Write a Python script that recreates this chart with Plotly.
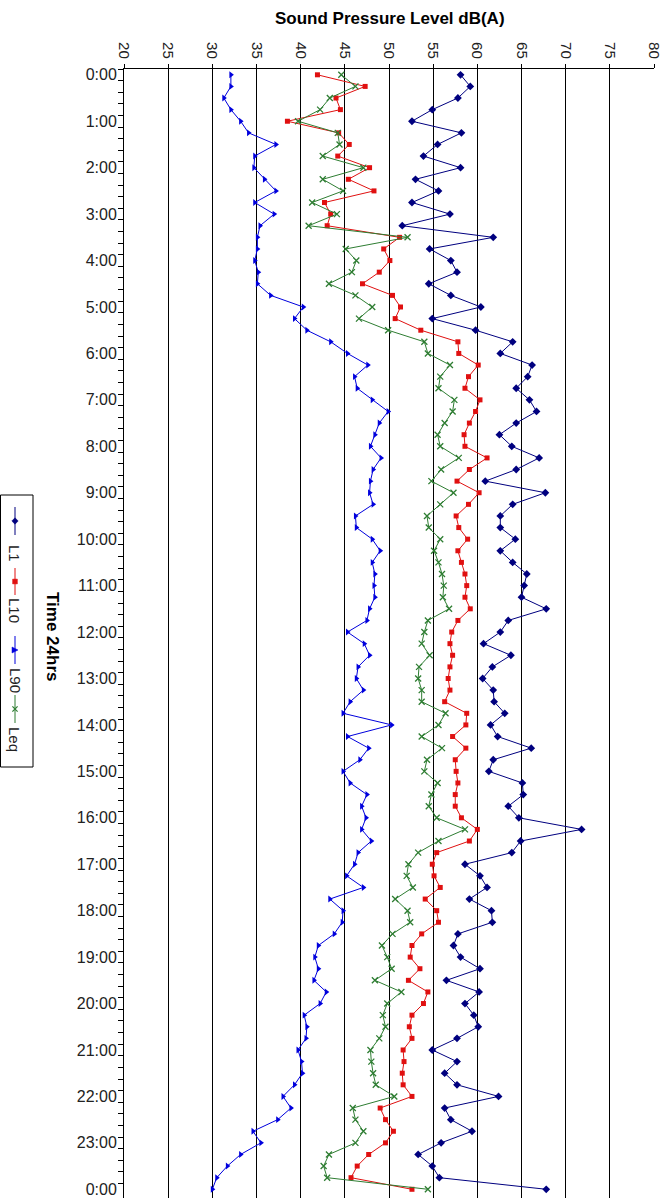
import plotly.graph_objects as go

# ---------------- data (15-minute intervals, 0:00 .. 24:00) ----------------
hour_labels = [f"{h % 24}:00" for h in range(25)]

l1 = [58.1, 59.2, 57.8, 54.9, 52.6, 58.2, 55.5, 53.9, 58.1, 53.0, 55.6, 52.6,
      56.9, 51.5, 61.8, 54.6, 57.0, 57.7, 54.5, 57.0, 60.4, 54.9, 59.8, 64.0,
      62.6, 66.2, 65.7, 64.4, 65.9, 66.7, 64.4, 62.5, 63.9, 67.0, 64.4, 60.9,
      67.7, 64.0, 62.6, 62.6, 64.3, 62.6, 64.0, 65.6, 65.3, 65.0, 67.8, 63.5,
      62.6, 60.7, 63.8, 61.7, 60.6, 61.8, 61.9, 63.1, 61.5, 62.3, 66.1, 61.8,
      61.3, 65.1, 65.2, 63.5, 64.7, 71.8, 64.9, 63.9, 58.6, 60.3, 61.1, 59.1,
      61.6, 61.7, 57.8, 57.3, 58.1, 60.3, 56.5, 60.2, 58.6, 59.6, 60.1, 57.7,
      54.9, 57.7, 56.3, 57.7, 62.4, 56.3, 57.0, 59.4, 55.9, 53.3, 54.9, 55.7,
      67.8]

l10 = [41.9, 47.3, 44.0, 44.5, 38.5, 44.3, 45.5, 44.2, 47.8, 45.4, 48.3, 42.7,
       43.4, 43.0, 51.2, 49.4, 50.1, 48.9, 47.0, 50.4, 51.3, 50.7, 53.6, 57.8,
       57.9, 60.1, 59.0, 58.6, 60.3, 59.8, 59.1, 58.5, 58.6, 61.1, 59.1, 57.7,
       60.2, 59.0, 57.6, 57.9, 58.9, 57.8, 58.2, 58.6, 58.8, 58.6, 59.2, 57.8,
       57.1, 56.9, 57.2, 56.9, 56.7, 56.9, 56.3, 58.8, 58.7, 57.2, 58.7, 57.5,
       57.6, 57.8, 57.5, 57.5, 58.2, 60.0, 59.1, 55.4, 54.9, 55.1, 55.8, 54.1,
       55.4, 55.6, 53.7, 52.6, 52.4, 53.5, 52.2, 54.4, 53.9, 52.6, 52.3, 52.6,
       51.6, 51.7, 51.5, 51.6, 52.6, 49.0, 49.6, 50.5, 49.6, 47.7, 46.4, 45.7,
       52.6]

l90 = [32.1, 32.1, 31.3, 32.1, 33.2, 34.1, 37.2, 34.8, 34.7, 35.9, 37.2, 34.8,
       37.0, 35.4, 35.1, 35.1, 34.8, 35.2, 35.1, 36.6, 40.3, 39.3, 40.7, 43.4,
       45.3, 47.6, 46.1, 46.4, 48.1, 49.9, 48.9, 48.4, 47.9, 49.1, 48.2, 47.9,
       47.8, 48.2, 46.2, 46.3, 48.1, 49.0, 48.1, 48.4, 48.3, 48.4, 47.8, 47.5,
       45.3, 47.2, 47.8, 46.5, 46.3, 47.1, 45.6, 44.8, 50.3, 45.3, 47.7, 46.7,
       44.8, 45.6, 47.5, 46.9, 47.4, 46.9, 48.0, 46.5, 46.1, 45.2, 47.1, 43.3,
       44.8, 44.7, 43.8, 42.0, 41.6, 42.0, 41.5, 42.9, 42.2, 40.4, 40.7, 40.6,
       39.7, 40.1, 40.2, 39.3, 38.0, 38.9, 37.4, 34.6, 35.5, 33.2, 31.7, 30.5,
       30.0]

leq = [44.6, 46.2, 43.3, 42.2, 39.7, 44.2, 44.4, 42.5, 47.1, 42.5, 44.8, 41.3,
       44.1, 40.9, 52.1, 45.1, 46.3, 45.8, 43.2, 46.2, 48.1, 46.6, 49.9, 54.0,
       54.4, 56.9, 55.8, 55.6, 57.4, 57.2, 56.3, 55.5, 55.8, 57.9, 55.9, 54.8,
       57.3, 55.8, 54.3, 54.5, 55.8, 55.1, 55.6, 56.0, 56.2, 56.1, 56.8, 54.4,
       54.0, 53.7, 54.6, 53.4, 53.3, 53.7, 53.7, 56.4, 55.6, 53.7, 56.0, 54.3,
       54.0, 55.5, 54.8, 54.5, 55.4, 58.6, 55.6, 53.3, 52.2, 52.0, 52.7, 50.7,
       52.1, 52.4, 50.4, 49.2, 49.8, 50.3, 48.4, 51.4, 49.8, 49.3, 49.6, 48.9,
       47.9, 48.0, 48.2, 48.5, 50.6, 45.9, 46.2, 47.1, 46.2, 43.2, 42.6, 43.0,
       54.4]

spl_ticks = list(range(20, 85, 5))
series_names = ["L1", "L10", "L90", "Leq"]
series_colors = ["#00007f", "#e01010", "#0000dd", "#2e7d32"]

# ---------------- layout geometry ----------------
W, H = 670, 1198
ML, MR, MT, MB = 124, 16, 69, 0
PW, PH = W - ML - MR, H - MT - MB


def px(x):
    return (x - ML) / PW


def py(y):
    return (H - MB - y) / PH


FONT = "Liberation Sans, Arial, sans-serif"
idx = list(range(len(l1)))

fig = go.Figure()
specs = [
    (l1, dict(symbol="diamond", size=6)),
    (l10, dict(symbol="square", size=5)),
    (l90, dict(symbol="triangle-right", size=6)),
    (leq, dict(symbol="x-thin", size=6, line=dict(width=1.3))),
]
for (vals, mk), name, col in zip(specs, series_names, series_colors):
    m = dict(mk)
    m["color"] = col
    if "line" in m:
        m["line"] = dict(m["line"], color=col)
    fig.add_trace(go.Scatter(x=vals, y=idx, mode="lines+markers", name=name,
                             line=dict(color=col, width=1), marker=m,
                             showlegend=False, cliponaxis=False,
                             hoverinfo="skip"))

fig.update_layout(
    width=W, height=H,
    margin=dict(l=ML, r=MR, t=MT, b=MB, autoexpand=False),
    paper_bgcolor="white", plot_bgcolor="white",
    font=dict(family=FONT, size=15, color="#222"),
    showlegend=False,
    xaxis=dict(side="top", range=[20, 80], tickmode="array", tickvals=spl_ticks,
               ticktext=[str(v) for v in spl_ticks], tickangle=90,
               ticks="outside", ticklen=4, tickcolor="black",
               showgrid=True, gridcolor="black", gridwidth=1,
               showline=True, linecolor="black", linewidth=1,
               zeroline=False, tickfont=dict(family=FONT, size=15, color="#222"),
               ticklabeloverflow="allow", automargin=False),
    yaxis=dict(range=[len(l1) - 0.25, -0.5], tickmode="array",
               tickvals=list(range(0, len(l1), 4)), ticktext=hour_labels,
               ticks="", showgrid=False, zeroline=False,
               showline=True, linecolor="black", linewidth=1,
               tickfont=dict(family=FONT, size=16, color="#222"),
               ticklabelstandoff=3, ticklabeloverflow="allow",
               minor=dict(tickmode="array",
                          tickvals=[i + 0.5 for i in range(-1, len(l1) - 1)],
                          ticks="outside", ticklen=5, tickcolor="black",
                          showgrid=False),
               automargin=False),
)

annotations = [
    dict(text="<b>Sound Pressure Level dB(A)</b>", x=px(390), y=py(18),
         xref="paper", yref="paper", showarrow=False, xanchor="center",
         yanchor="middle", font=dict(family=FONT, size=17, color="black")),
    dict(text="<b>Time 24hrs</b>", x=px(53), y=py(636), xref="paper",
         yref="paper", showarrow=False, textangle=90, xanchor="center",
         yanchor="middle", font=dict(family=FONT, size=17, color="black")),
]

shapes = [
    dict(type="rect", xref="paper", yref="paper", x0=px(0.5), x1=px(33),
         y0=py(495), y1=py(767), line=dict(color="black", width=1),
         fillcolor="white", layer="below"),
]

legend_pos = [(507, 535, 553), (568, 595, 610), (636, 664, 680), (695, 723, 739)]
lx = 15
for (ya, yb, yt), name, col, (vals, mk) in zip(legend_pos, series_names,
                                                series_colors, specs):
    shapes.append(dict(type="line", xref="paper", yref="paper", x0=px(lx),
                       x1=px(lx), y0=py(ya), y1=py(yb),
                       line=dict(color=col, width=1)))
    ym = (ya + yb) / 2
    sym = mk["symbol"]
    if sym == "diamond":
        d = 3.2
        path = (f"M {px(lx)},{py(ym - d)} L {px(lx + d)},{py(ym)} "
                f"L {px(lx)},{py(ym + d)} L {px(lx - d)},{py(ym)} Z")
        shapes.append(dict(type="path", xref="paper", yref="paper", path=path,
                           fillcolor=col, line=dict(color=col, width=0.5)))
    elif sym == "square":
        d = 2.4
        shapes.append(dict(type="rect", xref="paper", yref="paper",
                           x0=px(lx - d), x1=px(lx + d), y0=py(ym - d),
                           y1=py(ym + d), fillcolor=col,
                           line=dict(color=col, width=0.5)))
    elif sym == "triangle-right":
        d = 3
        path = (f"M {px(lx - d)},{py(ym - d)} L {px(lx + d)},{py(ym)} "
                f"L {px(lx - d)},{py(ym + d)} Z")
        shapes.append(dict(type="path", xref="paper", yref="paper", path=path,
                           fillcolor=col, line=dict(color=col, width=0.5)))
    else:
        d = 2.6
        for s in (1, -1):
            shapes.append(dict(type="line", xref="paper", yref="paper",
                               x0=px(lx - d), x1=px(lx + d),
                               y0=py(ym - s * d), y1=py(ym + s * d),
                               line=dict(color=col, width=1.2)))
    annotations.append(dict(text=name, x=px(lx), y=py(yt), xref="paper",
                            yref="paper", showarrow=False, textangle=90,
                            xanchor="center", yanchor="middle",
                            font=dict(family=FONT, size=15, color="#222")))

fig.update_layout(annotations=annotations, shapes=shapes)
fig.write_html("out.html",
               config={"displayModeBar": False, "staticPlot": True},
               post_script="document.body.style.margin='0px';"
                           "document.body.style.overflow='hidden';")
